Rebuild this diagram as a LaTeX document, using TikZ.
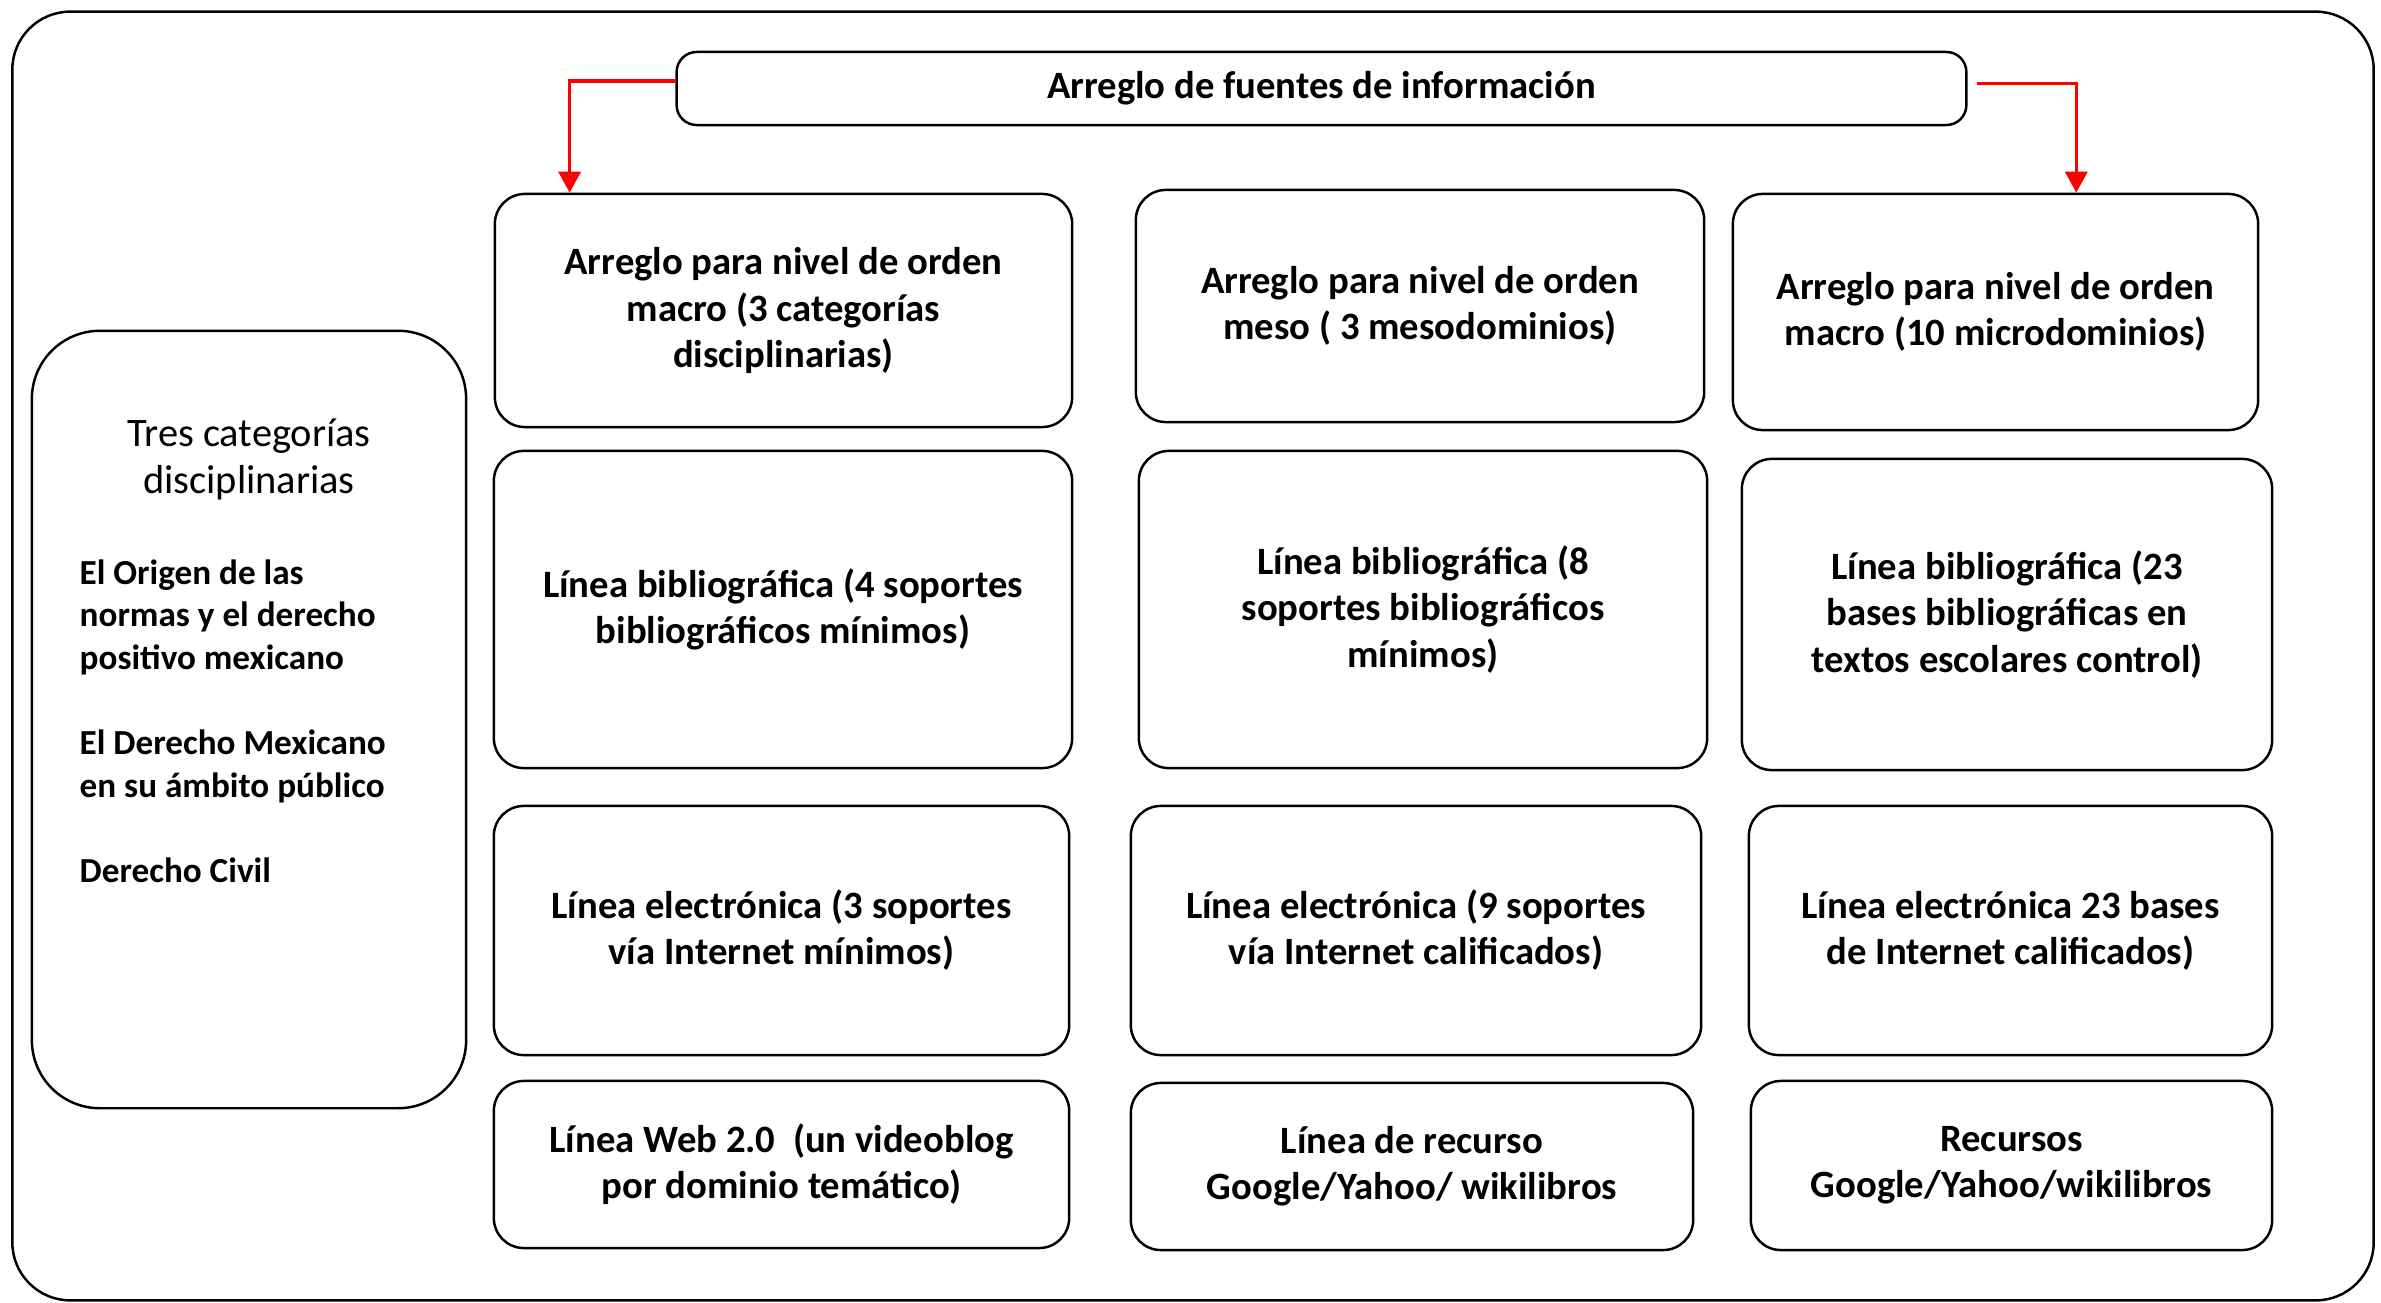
\documentclass[tikz,border=0pt]{standalone}
\usepackage{fontspec}
\setmainfont{Carlito}
\usetikzlibrary{arrows.meta}
\begin{document}
\begin{tikzpicture}[x=0.01cm,y=-0.01cm,
  bx/.style={draw, line width=0.7pt, rounded corners=0.3cm, inner sep=0pt,
    font=\bfseries\fontsize{11}{13.1}\selectfont, align=center},
  rarr/.style={draw=red, line width=1pt, -{Triangle[length=0.21cm,width=0.22cm]}},
  frame/.style={draw, line width=0.7pt}]
\useasboundingbox (0,0) rectangle (2381,1303);
\node[frame, rounded corners=0.58cm, inner sep=0pt, minimum width=23.6cm, minimum height=12.88cm] (outer) at (1193,656) {};
% top
\node[bx, rounded corners=0.2cm, minimum width=12.89cm, minimum height=0.73cm] (top) at (1321.5,88.5) {Arreglo de fuentes de información};
% column 1
\node[bx, minimum width=5.77cm, minimum height=2.33cm] (c11) at (783.5,310.5) {Arreglo para nivel de orden\\macro (3 categorías\\disciplinarias)};
\node[bx, minimum width=5.78cm, minimum height=3.17cm] (c12) at (783,609.5) {Línea bibliográfica (4 soportes\\bibliográficos mínimos)};
\node[bx, minimum width=5.75cm, minimum height=2.49cm] (c13) at (781.5,930.5) {Línea electrónica (3 soportes\\vía Internet mínimos)};
\node[bx, minimum width=5.75cm, minimum height=1.67cm] (c14) at (781.5,1164.5) {Línea Web 2.0\ \ (un videoblog\\por dominio temático)};
% column 2
\node[bx, minimum width=5.68cm, minimum height=2.32cm] (c21) at (1420,306) {Arreglo para nivel de orden\\meso ( 3 mesodominios)};
\node[bx, minimum width=5.68cm, minimum height=3.17cm] (c22) at (1423,609.5) {Línea bibliográfica (8\\soportes bibliográficos\\mínimos)};
\node[bx, minimum width=5.70cm, minimum height=2.49cm] (c23) at (1416,930.5) {Línea electrónica (9 soportes\\vía Internet calificados)};
\node[bx, minimum width=5.62cm, minimum height=1.67cm] (c24) at (1412,1166.5) {Línea de recurso\\Google/Yahoo/ wikilibros};
% column 3
\node[bx, minimum width=5.25cm, minimum height=2.36cm] (c31) at (1995.5,312) {Arreglo para nivel de orden\\macro (10 microdominios)};
\node[bx, minimum width=5.30cm, minimum height=3.11cm] (c32) at (2007,614.5) {Línea bibliográfica (23\\bases bibliográficas en\\textos escolares control)};
\node[bx, minimum width=5.23cm, minimum height=2.49cm] (c33) at (2010.5,930.5) {Línea electrónica 23 bases\\de Internet calificados)};
\node[bx, minimum width=5.21cm, minimum height=1.69cm] (c34) at (2011.5,1165.5) {Recursos\\Google/Yahoo/wikilibros};
% left box
\node[frame, rounded corners=0.68cm, inner sep=0pt, minimum width=4.34cm, minimum height=7.77cm] (left) at (249,719.5) {};
\node[align=center, inner sep=0pt, font=\fontsize{11.5}{13.4}\selectfont, anchor=north] (ltitle) at (249,418)
  {Tres categorías\\disciplinarias};
\node[align=left, inner sep=0pt, font=\bfseries\fontsize{10}{12.1}\selectfont, anchor=north west] (lbody) at (79,559)
  {El Origen de las\\normas y el derecho\\positivo mexicano\\[12.1pt]El Derecho Mexicano\\en su ámbito público\\[12.1pt]Derecho Civil};
% arrows
\draw[rarr] ([yshift=0.075cm]top.west) -| ([xshift=0.76cm]c11.north west);
\draw[rarr] ([xshift=0.09cm,yshift=0.05cm]top.east) -| ([xshift=-1.83cm]c31.north east);
\end{tikzpicture}
\end{document}
